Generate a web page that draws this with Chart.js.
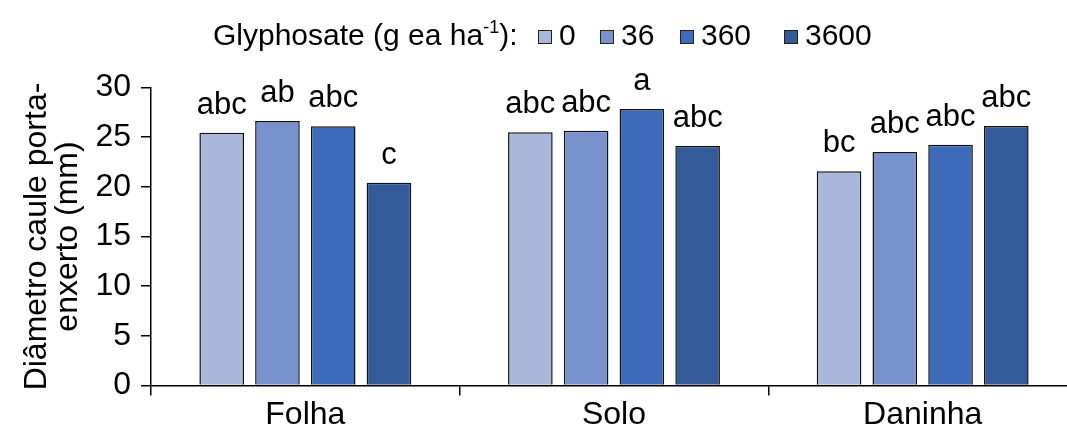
<!DOCTYPE html>
<html>
<head>
<meta charset="utf-8">
<script src="https://cdn.jsdelivr.net/npm/chart.js@4.4.1/dist/chart.umd.min.js"></script>
<style>
  html, body { margin: 0; padding: 0; background: #fff; overflow: hidden; }
  #wrap { width: 1067px; height: 437px; overflow: hidden; }
  canvas { display: block; }
</style>
</head>
<body>
<div id="wrap"><canvas id="c" width="1077" height="437"></canvas></div>
<script>
// Stem diameter of the rootstock by glyphosate application site and dose
const categories = ['Folha', 'Solo', 'Daninha'];
const doses = ['0', '36', '360', '3600'];
const dose0    = [25.45, 25.49, 21.56];
const dose36   = [26.63, 25.65, 23.51];
const dose360  = [26.09, 27.84, 24.24];
const dose3600 = [20.42, 24.11, 26.12];
const letters0    = ['abc', 'abc', 'bc'];
const letters36   = ['ab', 'abc', 'abc'];
const letters360  = ['abc', 'a', 'abc'];
const letters3600 = ['c', 'abc', 'abc'];
const yTicks = [0, 5, 10, 15, 20, 25, 30];
const colors = ['#A9B7DB', '#7991CD', '#3E6BB9', '#335A99'];

const FONT = '"Liberation Sans", Arial, sans-serif';
const FS = 31;
const LEGEND_FS = 30;

const series = [dose0, dose36, dose360, dose3600];
const letters = [letters0, letters36, letters360, letters3600];

// Significance letters above each bar
const letterPlugin = {
  id: 'letters',
  afterDatasetsDraw(chart) {
    const ctx = chart.ctx;
    ctx.save();
    ctx.font = FS + 'px ' + FONT;
    ctx.fillStyle = '#000';
    ctx.textAlign = 'center';
    ctx.textBaseline = 'alphabetic';
    chart.data.datasets.forEach((ds, i) => {
      chart.getDatasetMeta(i).data.forEach((bar, j) => {
        ctx.fillText(letters[i][j], bar.x, bar.y - 19);
      });
    });
    ctx.restore();
  }
};

// Inline legend row with a title and a superscript unit
const legendPlugin = {
  id: 'inlineLegend',
  afterDraw(chart) {
    const ctx = chart.ctx;
    ctx.save();
    const cy = 37;
    const boxX = [538, 600, 680, 784];
    ctx.fillStyle = '#000';
    ctx.textBaseline = 'middle';
    ctx.textAlign = 'left';
    let x = 213;
    ctx.font = LEGEND_FS + 'px ' + FONT;
    const t1 = 'Glyphosate (g ea ha';
    ctx.fillText(t1, x, cy);
    x += ctx.measureText(t1).width;
    ctx.font = Math.round(LEGEND_FS * 0.6) + 'px ' + FONT;
    ctx.fillText('-1', x, cy - 9);
    x += ctx.measureText('-1').width;
    ctx.font = LEGEND_FS + 'px ' + FONT;
    ctx.fillText('):', x, cy);
    chart.data.datasets.forEach((ds, i) => {
      const bx = boxX[i];
      ctx.fillStyle = ds.backgroundColor;
      ctx.fillRect(bx, cy - 7, 14, 14);
      ctx.strokeStyle = '#222';
      ctx.lineWidth = 1;
      ctx.strokeRect(bx + 0.5, cy - 6.5, 13, 13);
      ctx.fillStyle = '#000';
      ctx.fillText(ds.label, bx + 21, cy);
    });
    ctx.restore();
  }
};

new Chart(document.getElementById('c'), {
  type: 'bar',
  data: {
    labels: categories,
    datasets: series.map((vals, i) => ({
      label: doses[i],
      data: vals,
      backgroundColor: colors[i],
      borderColor: '#111',
      borderWidth: 1.5,
      categoryPercentage: 0.7226,
      barPercentage: 0.8
    }))
  },
  options: {
    responsive: false,
    animation: false,
    devicePixelRatio: 1,
    layout: { padding: { top: 87.5, right: 0, bottom: 0, left: 0 } },
    plugins: { legend: { display: false }, tooltip: { enabled: false } },
    scales: {
      x: {
        offset: true,
        afterFit(s) { s.height = 51.5; },
        grid: { offset: true, drawOnChartArea: false, drawTicks: true, tickLength: 10, color: '#000', lineWidth: 1.5 },
        border: { display: true, color: '#000', width: 1.5 },
        ticks: { color: '#000', font: { family: FONT, size: 32 }, padding: 0 }
      },
      y: {
        min: 0,
        max: 30,
        afterBuildTicks(s) { s.ticks = yTicks.map(v => ({ value: v })); },
        afterFit(s) { s.width = 151; },
        grid: { drawOnChartArea: false, drawTicks: true, tickLength: 10, color: '#000', lineWidth: 1.5 },
        border: { display: true, color: '#000', width: 1.5 },
        ticks: { color: '#000', font: { family: FONT, size: 32 }, padding: 10 },
        title: {
          display: true,
          text: ['Diâmetro caule porta-', 'enxerto (mm)'],
          color: '#000',
          font: { family: FONT, size: 32, lineHeight: 0.98 },
          padding: { top: 21, bottom: 0 }
        }
      }
    }
  },
  plugins: [letterPlugin, legendPlugin]
});
</script>
</body>
</html>
